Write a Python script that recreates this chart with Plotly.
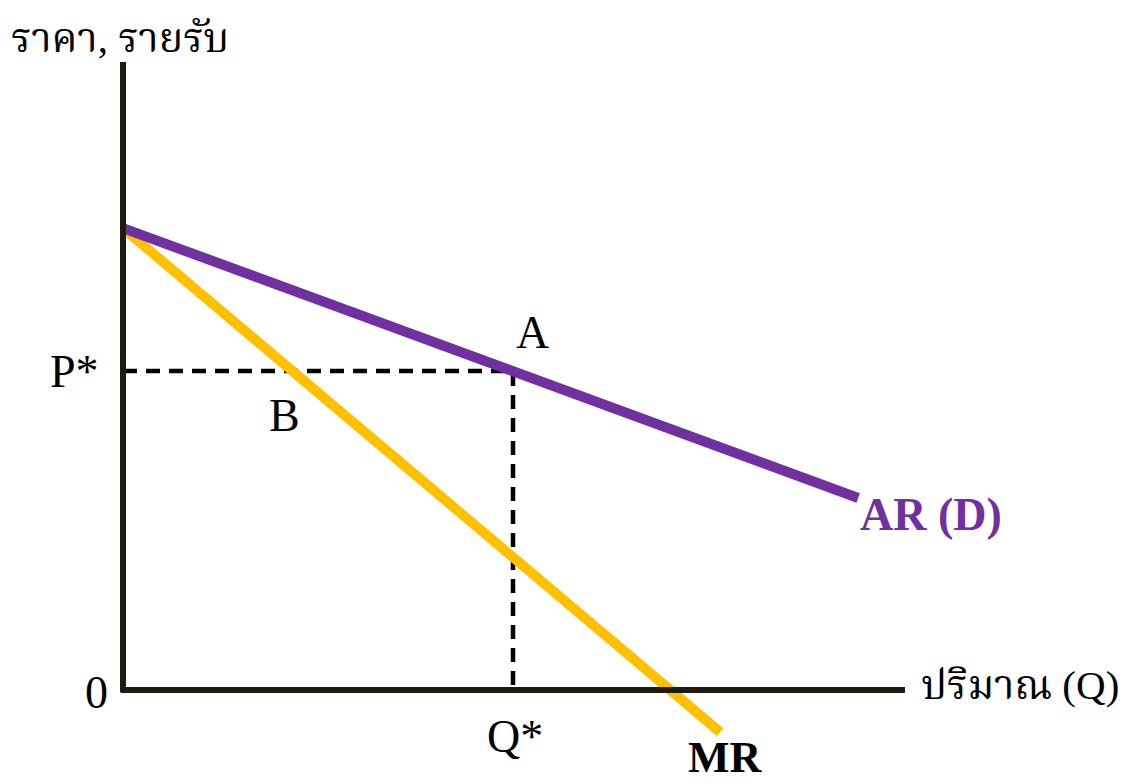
import plotly.graph_objects as go

# Market values (price / revenue vs quantity)
p_max = 14.48          # price intercept shared by AR and MR
q_star = 10.0          # profit-maximising quantity
p_star = 10.0          # price at Q*

ar_q = [0.0, 18.85]
ar_p = [p_max, 6.02]

mr_q = [0.0, 15.31]
mr_p = [p_max, -1.32]

axis_q_max = 20.05
axis_p_max = 19.69

x_range = [-3.154, 25.82]
y_range = [-2.947, 21.63]

AXIS_COL = "#1f1b13"
PURPLE = "#7030a0"
GOLD = "#ffc000"
SERIF = "Liberation Serif, Times New Roman, Noto Serif Thai, Noto Sans Thai, serif"

fig = go.Figure()

# Guide lines from A to the axes
fig.add_trace(go.Scatter(x=[0, q_star, q_star], y=[p_star, p_star, 0], mode="lines",
                         line=dict(color="black", width=4.5, dash="14px,9px"),
                         hoverinfo="skip", showlegend=False))

# MR and AR curves
fig.add_trace(go.Scatter(x=mr_q, y=mr_p, mode="lines",
                         line=dict(color=GOLD, width=10), showlegend=False))
fig.add_trace(go.Scatter(x=ar_q, y=ar_p, mode="lines",
                         line=dict(color=PURPLE, width=10), showlegend=False))

# Axes drawn as thick lines
fig.add_trace(go.Scatter(x=[0, 0], y=[-0.06, axis_p_max], mode="lines",
                         line=dict(color=AXIS_COL, width=6), showlegend=False))
fig.add_trace(go.Scatter(x=[-0.06, axis_q_max], y=[0, 0], mode="lines",
                         line=dict(color=AXIS_COL, width=6), showlegend=False))

def label(x, y, text, size=44, color="black", bold=False):
    t = f"<b>{text}</b>" if bold else text
    fig.add_annotation(x=x, y=y, text=t, showarrow=False, xanchor="center", yanchor="middle",
                       font=dict(family=SERIF, size=size, color=color))

label(-0.077, 20.44, "ราคา, รายรับ", size=41)
label(23.0, 0.16, "ปริมาณ (Q)", size=41)
label(-1.256, p_star - 0.03, "P*", size=46)
label(-0.69, -0.09, "0", size=46)
label(q_star + 0.49, 11.22, "A", size=46)
label(4.15, 8.59, "B", size=46)
label(q_star + 0.05, -1.47, "Q*", size=46)
label(15.44, -2.12, "MR", size=44, bold=True)
label(20.72, 5.49, "AR (D)", size=46, color=PURPLE, bold=True)

fig.update_layout(
    width=1130, height=784,
    margin=dict(l=0, r=0, t=0, b=0),
    paper_bgcolor="white", plot_bgcolor="white",
    xaxis=dict(range=x_range, visible=False, fixedrange=True),
    yaxis=dict(range=y_range, visible=False, fixedrange=True),
    showlegend=False,
)

fig.write_html("out.html")
